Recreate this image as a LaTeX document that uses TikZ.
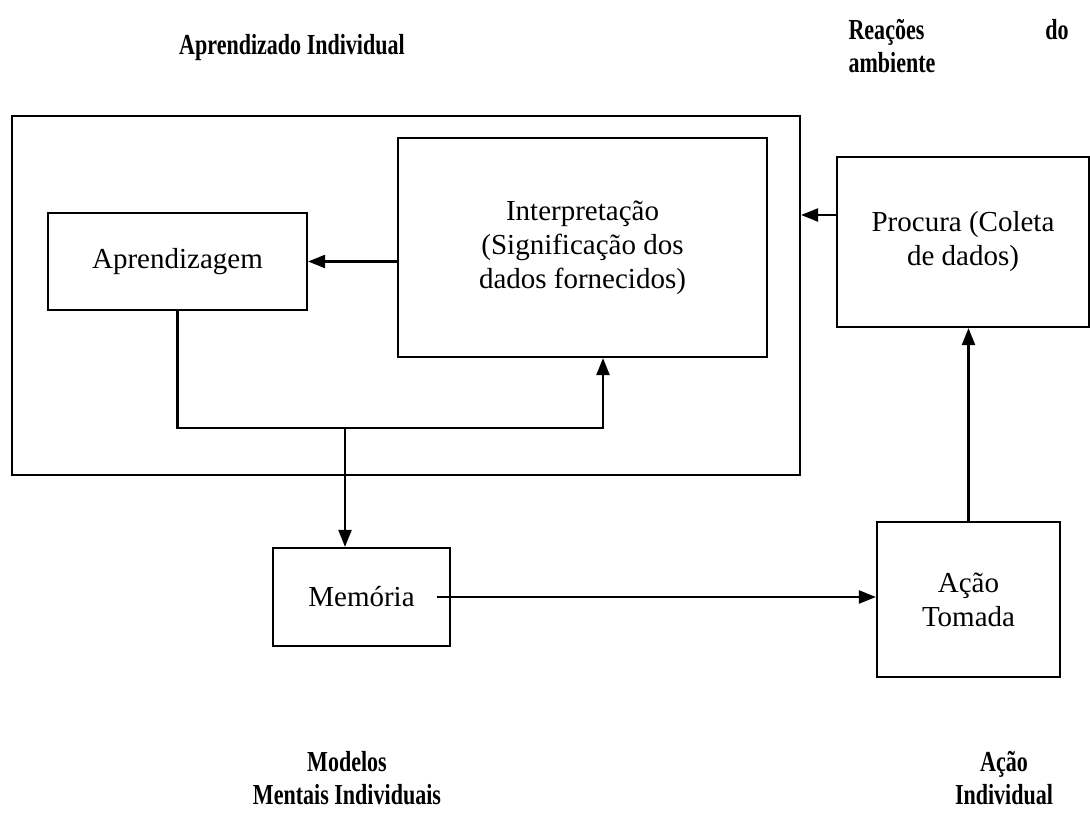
\documentclass[tikz,border=0pt]{standalone}
\usepackage{fontspec}
\setmainfont{Liberation Serif}
\newfontfamily\lblfont{Liberation Serif}[FakeStretch=0.76]
\usetikzlibrary{arrows.meta}
\begin{document}
\begin{tikzpicture}[x=1pt,y=-1pt,
  box/.style={draw,line width=2.2pt,rectangle,inner sep=0pt,align=center,
    font=\fontsize{29}{34}\selectfont},
  arr/.style={line width=2.2pt,-{Triangle[length=17pt,width=13pt]}},
  lbl/.style={align=center,font=\fontsize{29}{33}\lblfont\bfseries}]
\useasboundingbox (0,0) rectangle (1090,832);
% boxes
\node[box,minimum width=788,minimum height=359] (outer) at (406,295.5) {};
\node[box,minimum width=369,minimum height=219] (interp) at (582.5,247.5)
  {Interpretação\\(Significação dos\\dados fornecidos)};
\node[box,minimum width=259,minimum height=97] (aprend) at (177.5,261.5) {Aprendizagem};
\node[box,minimum width=252,minimum height=170] (procura) at (963,242)
  {Procura (Coleta\\de dados)};
\node[box,minimum width=177,minimum height=98] (mem) at (361.5,597) {Memória};
\node[box,minimum width=183,minimum height=155] (acao) at (968.5,599.5) {Ação\\Tomada};
% labels
\node[lbl] (t1) at (292,48) {Aprendizado Individual};
\node[lbl,align=left,text width=220,anchor=north west] (t2) at (845,16)
  {Reações\hfill do\\ambiente};
\node[lbl] (t3) at (347,778) {Modelos\\Mentais Individuais};
\node[lbl] (t4) at (1004,778) {Ação\\Individual};
% coordinates
\coordinate (py) at (0,215);
\coordinate (up) at (603,428);
\coordinate (fk) at (345,428);
\coordinate (memout) at (437,597);
% connectors
\draw[arr] (interp.west |- aprend.east) -- (aprend.east);
\draw[arr] (procura.west |- py) -- (outer.east |- py);
\draw[arr] (aprend.south) |- (up) -- (up |- interp.south);
\draw[arr] (fk) -- (fk |- mem.north);
\draw[arr] (memout) -- (memout -| acao.west);
\draw[arr] (acao.north) -- (acao.north |- procura.south);
\end{tikzpicture}
\end{document}
